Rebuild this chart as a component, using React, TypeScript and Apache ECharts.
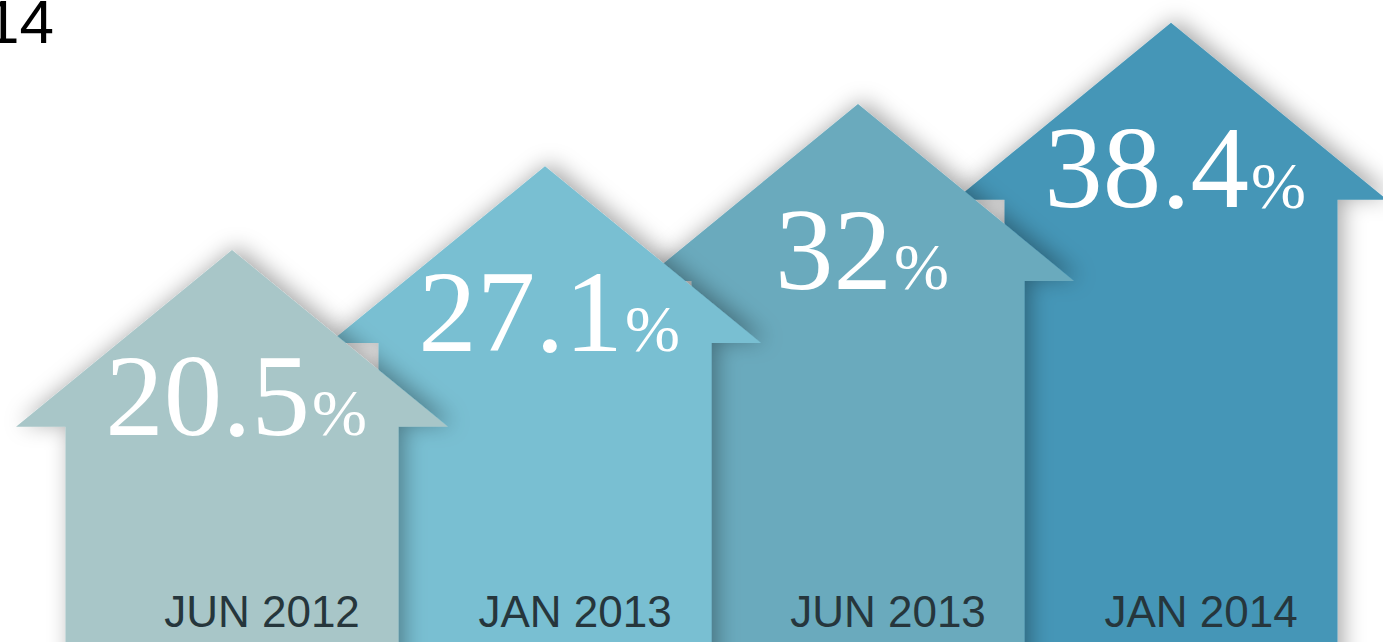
import React, { useEffect, useRef } from "react";
import * as echarts from "echarts";

const categories = ["JUN 2012", "JAN 2013", "JUN 2013", "JAN 2014"];
const values = [20.5, 27.1, 32, 38.4];
const valueLabels = ["20.5", "27.1", "32", "38.4"];
const titleFragment = "14";

const ARROW_COLORS = ["#a8c6c8", "#79bfd2", "#6aaabd", "#4596b7"];
const SERIF = "'Liberation Serif', 'Times New Roman', serif";
const SANS = "'Liberation Sans', Arial, sans-serif";

let measureCtx: CanvasRenderingContext2D | null = null;
function textWidth(text: string, font: string): number {
  if (!measureCtx) measureCtx = document.createElement("canvas").getContext("2d");
  if (!measureCtx) return text.length * 50;
  measureCtx.font = font;
  return measureCtx.measureText(text).width;
}

export default function App() {
  const ref = useRef<HTMLDivElement>(null);
  useEffect(() => {
    const chart = echarts.init(ref.current!, null, { renderer: "svg" });
    const VAL_FONT = 117;
    const PCT_FONT = 66;
    chart.setOption({
      animation: false,
      grid: { left: 75.5, right: 55.5, top: 0, bottom: 0 },
      xAxis: { type: "category", data: categories, show: false },
      yAxis: { type: "value", min: -10.4, max: 40.2, show: false },
      graphic: [
        {
          type: "text",
          x: 54,
          y: 21.5,
          style: {
            text: titleFragment,
            fontSize: 62,
            fontFamily: SANS,
            fill: "#000000",
            align: "right",
            verticalAlign: "middle",
          },
        },
      ],
      series: [
        {
          type: "custom",
          coordinateSystem: "cartesian2d",
          clip: false,
          encode: { x: 0, y: 1 },
          data: values.map((v, i) => [i, v]).reverse(),
          renderItem: (params: any, api: any) => {
            const i = api.value(0) as number;
            const v = api.value(1) as number;
            const [cx, tipY] = api.coord([i, v]);
            const band = api.size([1, 0])[0];
            const cs = params.coordSys;
            const bottom = cs.y + cs.height;
            const shaft = band * 0.532;
            const head = band * 0.69;
            const headH = band * 0.565;
            const baseY = tipY + headH;
            const points = [
              [cx, tipY],
              [cx + head, baseY],
              [cx + shaft, baseY],
              [cx + shaft, bottom + 30],
              [cx - shaft, bottom + 30],
              [cx - shaft, baseY],
              [cx - head, baseY],
            ];
            const numText = valueLabels[i];
            const wNum = textWidth(numText, `${VAL_FONT}px 'Liberation Serif'`);
            const wPct = textWidth("%", `${PCT_FONT}px 'Liberation Serif'`);
            const startX = cx - (wNum + wPct + 2) / 2 + 4;
            const baseline = baseY + 8;
            return {
              type: "group",
              children: [
                {
                  type: "polygon",
                  shape: { points },
                  style: {
                    fill: ARROW_COLORS[i],
                    shadowBlur: 22,
                    shadowColor: "rgba(0,0,0,0.35)",
                    shadowOffsetX: 5,
                    shadowOffsetY: -3,
                  },
                },
                {
                  type: "text",
                  x: startX,
                  y: baseline - VAL_FONT * 0.34,
                  style: {
                    text: numText,
                    fontSize: VAL_FONT,
                    fontFamily: SERIF,
                    fill: "#ffffff",
                    align: "left",
                    verticalAlign: "middle",
                  },
                },
                {
                  type: "text",
                  x: startX + wNum + 2,
                  y: baseline - PCT_FONT * 0.34,
                  style: {
                    text: "%",
                    fontSize: PCT_FONT,
                    fontFamily: SERIF,
                    fill: "#ffffff",
                    align: "left",
                    verticalAlign: "middle",
                  },
                },
                {
                  type: "text",
                  x: cx + 30,
                  y: bottom - 31,
                  style: {
                    text: categories[i],
                    fontSize: 44,
                    fontFamily: SANS,
                    fill: "#26363c",
                    align: "center",
                    verticalAlign: "middle",
                  },
                },
              ],
            };
          },
        },
      ],
    });
    return () => chart.dispose();
  }, []);
  return (
    <div
      ref={ref}
      style={{ position: "absolute", left: 0, top: 0, width: 1383, height: 642, background: "#ffffff" }}
    />
  );
}
